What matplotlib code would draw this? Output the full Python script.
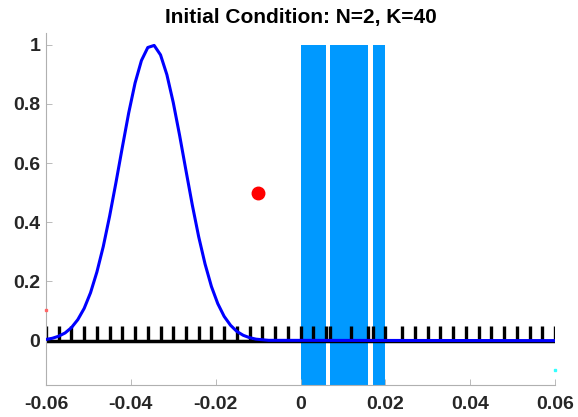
import matplotlib.pyplot as plt

# mesh nodes (41 nodes, K=40 elements)
nodes = [-0.060, -0.057, -0.054, -0.051, -0.048, -0.045, -0.042, -0.039, -0.036,
         -0.033, -0.030, -0.027, -0.024, -0.021, -0.018, -0.015, -0.012, -0.009,
         -0.006, -0.003, 0.000, 0.003, 0.006, 0.007, 0.012, 0.016, 0.017, 0.020,
         0.024, 0.027, 0.030, 0.033, 0.036, 0.039, 0.042, 0.045, 0.048, 0.051,
         0.054, 0.057, 0.060]
tick_height = 0.05

# initial condition curve
curve_x = [-0.0600, -0.0585, -0.0570, -0.0555, -0.0540, -0.0525, -0.0510, -0.0495,
           -0.0480, -0.0465, -0.0450, -0.0435, -0.0420, -0.0405, -0.0390, -0.0375,
           -0.0360, -0.0345, -0.0330, -0.0315, -0.0300, -0.0285, -0.0270, -0.0255,
           -0.0240, -0.0225, -0.0210, -0.0195, -0.0180, -0.0165, -0.0150, -0.0135,
           -0.0120, -0.0105, -0.0090, -0.0075, 0.0600]
curve_y = [0.004, 0.008, 0.015, 0.026, 0.044, 0.071, 0.109, 0.162, 0.232, 0.318,
           0.421, 0.535, 0.654, 0.770, 0.871, 0.947, 0.991, 0.998, 0.966, 0.899,
           0.805, 0.694, 0.575, 0.458, 0.351, 0.259, 0.183, 0.125, 0.082, 0.052,
           0.031, 0.018, 0.010, 0.005, 0.003, 0.001, 0.0]

# shaded regions
regions = [(0.000, 0.006), (0.007, 0.016), (0.017, 0.020)]
region_top = 1.0

# particle
point_x, point_y = -0.01, 0.5

fig = plt.figure(figsize=(5.78, 4.17), dpi=100)
ax = fig.add_axes([46 / 578, 32 / 417, 509 / 578, 352 / 417])

for a, b in regions:
    ax.fill_between([a, b], [-0.2, -0.2], [region_top, region_top],
                    color='#0099ff', linewidth=0, zorder=1)

ax.plot([nodes[0], nodes[-1]], [0, 0], color='black', linewidth=2.5, zorder=2)
ax.vlines(nodes, 0, tick_height, color='black', linewidth=2.4, zorder=2)
ax.plot(curve_x, curve_y, color='#0000ff', linewidth=2.2, zorder=3)
ax.plot(point_x, point_y, 'o', color='red', markersize=9, zorder=4)

# tiny clipped markers at the edges
ax.plot(-0.06, 0.105, 's', color='#ff6666', markersize=1.5, zorder=4, clip_on=False)
ax.plot(0.06, -0.1, 's', color='#33ffff', markersize=1.5, zorder=4, clip_on=False)

ax.set_xlim(-0.06, 0.06)
ax.set_ylim(-0.15, 1.04)
ax.set_xticks([-0.06, -0.04, -0.02, 0, 0.02, 0.04, 0.06])
ax.set_xticklabels(['-0.06', '-0.04', '-0.02', '0', '0.02', '0.04', '0.06'])
ax.set_yticks([0, 0.2, 0.4, 0.6, 0.8, 1])
ax.set_yticklabels(['0', '0.2', '0.4', '0.6', '0.8', '1'])

for s in ['top', 'right']:
    ax.spines[s].set_visible(False)
for s in ['left', 'bottom']:
    ax.spines[s].set_color('#b0b0b0')
    ax.spines[s].set_linewidth(0.8)

ax.tick_params(direction='in', length=4, width=0.6, color='#b0b0b0',
               labelcolor='#262626', labelsize=14)
ax.tick_params(axis='x', pad=8)
ax.tick_params(axis='y', pad=4)
for lab in ax.get_xticklabels() + ax.get_yticklabels():
    lab.set_fontfamily('Liberation Sans')
    lab.set_fontweight('bold')

ax.set_title('Initial Condition: N=2, K=40', fontsize=15, fontweight='bold',
             family='Liberation Sans', pad=7)

fig.savefig('out.png', dpi=100)
